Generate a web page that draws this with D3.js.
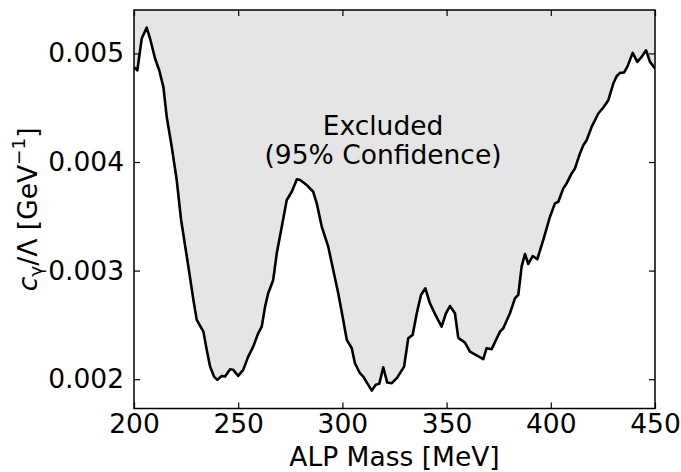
<!DOCTYPE html>
<html><head><meta charset="utf-8">
<script src="https://cdn.jsdelivr.net/npm/d3@7"></script>
<style>
body{margin:0;background:#fff;}
text{font-family:"DejaVu Sans",sans-serif;}
</style></head>
<body><svg id="c" width="681" height="472"></svg>
<script>
const mass = [200.0,201.6,203.7,206.1,207.7,210.1,212.1,214.1,215.7,218.1,220.5,222.6,226.1,228.5,230.1,233.3,234.9,236.5,238.4,240.0,242.1,243.7,246.1,247.6,250.0,252.4,254.8,257.2,259.6,261.3,262.9,264.4,266.8,268.5,270.9,273.3,275.7,278.1,279.7,282.9,286.0,287.7,290.1,293.2,295.6,298.0,300.4,302.1,304.5,306.0,308.4,310.0,312.4,314.1,316.0,317.7,319.6,321.5,323.7,326.1,329.6,331.6,333.7,335.7,337.7,339.8,342.0,344.4,347.6,349.7,351.6,354.0,355.6,358.8,361.2,367.6,369.2,371.6,375.6,377.2,380.4,382.8,384.4,386.0,387.6,389.2,391.3,393.5,396.4,399.6,402.0,403.6,406.0,407.6,410.0,411.6,414.0,415.6,417.2,419.6,422.8,425.2,427.6,430.0,431.6,433.2,435.1,436.7,439.3,441.5,443.6,445.7,447.6,450.0];
const limit = [0.004873,0.004845,0.005137,0.005238,0.005137,0.004953,0.004845,0.004692,0.004416,0.004140,0.003834,0.003466,0.003036,0.002730,0.002546,0.002438,0.002270,0.002116,0.002024,0.001994,0.002030,0.002024,0.002092,0.002086,0.002030,0.002086,0.002208,0.002300,0.002423,0.002484,0.002668,0.002791,0.002914,0.003159,0.003404,0.003650,0.003726,0.003840,0.003834,0.003788,0.003726,0.003619,0.003404,0.003220,0.003006,0.002791,0.002546,0.002362,0.002285,0.002147,0.002055,0.002024,0.001948,0.001895,0.001948,0.001957,0.002110,0.001969,0.001963,0.002009,0.002116,0.002377,0.002408,0.002607,0.002776,0.002837,0.002699,0.002601,0.002484,0.002607,0.002674,0.002607,0.002380,0.002337,0.002254,0.002184,0.002285,0.002276,0.002438,0.002469,0.002607,0.002745,0.002776,0.003036,0.003153,0.003061,0.003134,0.003104,0.003282,0.003496,0.003619,0.003634,0.003757,0.003803,0.003895,0.003941,0.004079,0.004155,0.004201,0.004324,0.004447,0.004502,0.004569,0.004723,0.004790,0.004821,0.004824,0.004876,0.005005,0.004922,0.004968,0.005029,0.004922,0.004861];
const xTicks = [200,250,300,350,400,450];
const yTicks = [0.002,0.003,0.004,0.005];
const xDomain = [200,450];
const yDomain = [0.00173,0.0054];
const annotation = ["Excluded","(95% Confidence)"];
const annotationPos = [319.5,0.004248];

const svg = d3.select("#c");
const L=134, R=655, T=10, B=408.5;
const x = d3.scaleLinear().domain(xDomain).range([L,R]);
const y = d3.scaleLinear().domain(yDomain).range([B,T]);
const data = mass.map((m,i)=>({m, v:limit[i]}));

svg.append("defs").append("clipPath").attr("id","clip")
  .append("rect").attr("x",L).attr("y",T).attr("width",R-L).attr("height",B-T);

const g = svg.append("g").attr("clip-path","url(#clip)");
g.append("path").datum(data)
  .attr("d", d3.area().x(d=>x(d.m)).y0(T).y1(d=>y(d.v)))
  .attr("fill","#e5e5e5");
g.append("path").datum(data)
  .attr("d", d3.line().x(d=>x(d.m)).y(d=>y(d.v)))
  .attr("fill","none").attr("stroke","#000").attr("stroke-width",2.6).attr("stroke-linejoin","round");

const fs = "26.5px";
const ax = svg.append("g").attr("transform",`translate(0,${B})`)
  .call(d3.axisBottom(x).tickValues(xTicks).tickSizeInner(-6).tickSizeOuter(0).tickPadding(12).tickFormat(d3.format("d")));
const ay = svg.append("g").attr("transform",`translate(${L},0)`)
  .call(d3.axisLeft(y).tickValues(yTicks).tickSizeInner(-6).tickSizeOuter(0).tickPadding(10).tickFormat(d3.format(".3f")));
const axT = svg.append("g").attr("transform",`translate(0,${T})`)
  .call(d3.axisTop(x).tickValues(xTicks).tickSizeInner(-6).tickSizeOuter(0).tickFormat(""));
const ayR = svg.append("g").attr("transform",`translate(${R},0)`)
  .call(d3.axisRight(y).tickValues(yTicks).tickSizeInner(-6).tickSizeOuter(0).tickFormat(""));
[ax,ay,axT,ayR].forEach(a=>{
  a.select(".domain").remove();
  a.selectAll(".tick line").attr("stroke","#000").attr("stroke-width",1.2);
  a.selectAll("text").attr("fill","#000").style("font-size",fs).style("font-family","DejaVu Sans");
});
ax.selectAll("text").attr("y",6).attr("dy","0.71em");

svg.append("rect").attr("x",L).attr("y",T).attr("width",R-L).attr("height",B-T)
  .attr("fill","none").attr("stroke","#000").attr("stroke-width",1.5);

// annotation
const at = svg.append("text").attr("text-anchor","middle").style("font-size",fs).attr("fill","#000");
annotation.forEach((s,i)=>{
  at.append("tspan").attr("x",x(annotationPos[0])).attr("y",y(annotationPos[1])+i*29).text(s);
});

// axis labels
svg.append("text").attr("x",(L+R)/2).attr("y",466).attr("text-anchor","middle")
  .style("font-size",fs).attr("fill","#000").text("ALP Mass [MeV]");

const yl = svg.append("text").attr("transform",`translate(37,${(T+B)/2}) rotate(-90)`)
  .attr("text-anchor","middle").style("font-size",fs).attr("fill","#000");
yl.append("tspan").style("font-style","italic").text("c");
yl.append("tspan").attr("dy",5).style("font-size","18.5px").text("γ");
yl.append("tspan").attr("dy",-5).text("/Λ [GeV");
yl.append("tspan").attr("dy",-12).style("font-size","18.5px").text("−1");
yl.append("tspan").attr("dy",12).text("]");
</script></body></html>
